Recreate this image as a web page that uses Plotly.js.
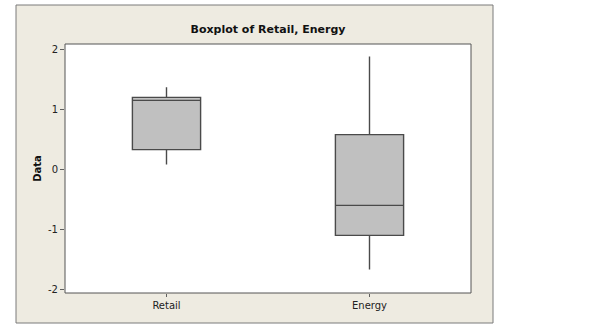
<!DOCTYPE html>
<html><head><meta charset="utf-8">
<script src="https://cdn.plot.ly/plotly-3.0.1.min.js"></script>
<style>html,body{margin:0;padding:0;background:#fff;}#chart{width:600px;height:336px;}</style>
</head><body><div id="chart"></div>
<script>
var categories = ["Retail", "Energy"];
var lowerWhisker = [0.08, -1.67];
var q1Values = [0.33, -1.10];
var medianValues = [1.15, -0.60];
var q3Values = [1.20, 0.58];
var upperWhisker = [1.37, 1.88];
var yTickVals = [-2, -1, 0, 1, 2];

var trace = {
  type: 'box',
  x: categories,
  q1: q1Values,
  median: medianValues,
  q3: q3Values,
  lowerfence: lowerWhisker,
  upperfence: upperWhisker,
  width: 0.336,
  whiskerwidth: 0,
  fillcolor: '#c0c0c0',
  line: {color: '#4a4a4a', width: 1.4},
  boxpoints: false,
  hoverinfo: 'none',
  showlegend: false
};

var layout = {
  width: 600, height: 336,
  margin: {l: 65, r: 129, t: 44, b: 43},
  paper_bgcolor: '#ffffff',
  plot_bgcolor: '#ffffff',
  font: {family: 'DejaVu Sans, Verdana, sans-serif', size: 10, color: '#222'},
  title: {text: '<b>Boxplot of Retail, Energy</b>', x: 0.5, xref: 'paper', xanchor: 'center',
          y: 1 - 29/336, yanchor: 'middle', font: {size: 11, color: '#111'}},
  xaxis: {range: [-0.5, 1.5], showgrid: false, zeroline: false, showline: false,
          ticks: 'outside', ticklen: 3, tickcolor: '#606060', tickfont: {size: 10, color: '#222'},
          fixedrange: true},
  yaxis: {range: [-2.06, 2.09], tickvals: yTickVals, ticktext: yTickVals.map(String),
          showgrid: false, zeroline: false, showline: false,
          ticks: 'outside', ticklen: 4, tickcolor: '#606060', tickfont: {size: 10, color: '#222'},
          title: {text: '<b>Data</b>', standoff: 4, font: {size: 10, color: '#111'}}, fixedrange: true},
  shapes: [
    {type: 'rect', xref: 'paper', yref: 'paper', layer: 'below',
     x0: (16-65)/406, x1: (493-65)/406, y0: (293-323)/249, y1: (293-5)/249,
     fillcolor: '#eeebe1', line: {color: '#7a7a7a', width: 1}},
    {type: 'rect', xref: 'paper', yref: 'paper', layer: 'below',
     x0: 0, x1: 1, y0: 0, y1: 1,
     fillcolor: '#ffffff', line: {color: '#555555', width: 1}}
  ]
};

Plotly.newPlot('chart', [trace], layout, {staticPlot: true, displayModeBar: false});
</script></body></html>
